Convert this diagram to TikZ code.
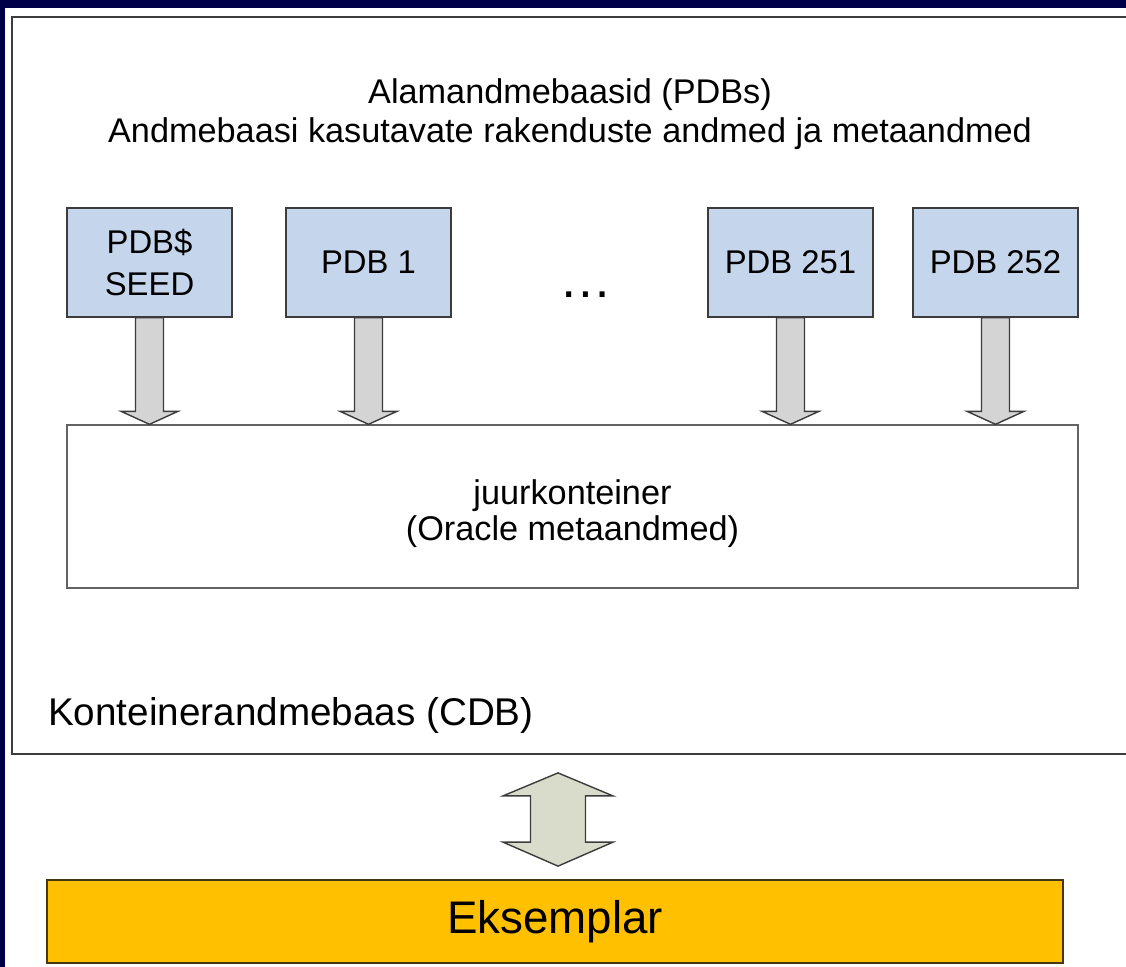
\documentclass[tikz,border=0pt]{standalone}
\usepackage{fontspec}
\setmainfont{Liberation Sans}
\usetikzlibrary{calc}
\definecolor{bgnavy}{RGB}{0, 0, 72}
\definecolor{pdbblue}{RGB}{197, 214, 236}
\definecolor{arrowgray}{RGB}{212, 212, 212}
\definecolor{swapgreen}{RGB}{217, 220, 203}
\definecolor{eksgold}{RGB}{255, 192, 0}
\definecolor{framegray}{RGB}{60, 60, 60}
\definecolor{eksedge}{RGB}{70, 55, 20}

\tikzset{
  pdbbox/.style={draw=framegray, line width=0.8pt, fill=pdbblue, minimum width=3.3cm, minimum height=2.18cm, align=center, font=\fontsize{18.7}{23.8}\selectfont},
  fatarrow/.style={draw=framegray, line width=0.8pt, fill=arrowgray, line join=miter},
}

\begin{document}
\begin{tikzpicture}[x=0.02cm, y=-0.02cm]
\useasboundingbox (0,0) rectangle (1126,967);
% Background
\fill[bgnavy] (0,0) rectangle (1126,967);
\fill[white] (5,8) rectangle (1126,967);

% Container database frame
\node[draw=framegray, line width=1.1pt, minimum width=22.56cm, minimum height=14.74cm] (cdb) at (576,385.5) {};
\node[anchor=west, font=\fontsize{22}{26}\selectfont] (cdblbl) at (42,715) {Konteinerandmebaas (CDB)};

% Title
\node[align=center, font=\fontsize{19.5}{22.1}\selectfont] (title) at (570,114) {Alamandmebaasid (PDBs)\\Andmebaasi kasutavate rakenduste andmed ja metaandmed};

% Pluggable databases
\node[pdbbox] (seed) at (149.5,262.5) {PDB\$\\SEED};
\node[pdbbox] (pdba) at (368.5,262.5) {PDB 1};
\node[font=\fontsize{30}{34}\selectfont] (dots) at (586,295) {…};
\node[pdbbox] (pdby) at (790.5,262.5) {PDB 251};
\node[pdbbox] (pdbz) at (995.5,262.5) {PDB 252};

% Root container
\node[draw=framegray!80, line width=0.8pt, minimum width=20.22cm, minimum height=3.26cm] (juur) at (572.5,506.5) {};
\node[align=center, font=\fontsize{19.5}{20.4}\selectfont] (juurlbl) at ($(juur.center)+(0,7)$) {juurkonteiner\\(Oracle metaandmed)};

% Arrows into root container
\foreach \p in {seed,pdba,pdby,pdbz}{
  \draw[fatarrow] ($(\p.south)+(-14,0)$) -- ($(\p.south |- juur.north)+(-14,-13)$) -- ($(\p.south |- juur.north)+(-28.5,-13)$) -- (\p.south |- juur.north) -- ($(\p.south |- juur.north)+(28.5,-13)$) -- ($(\p.south |- juur.north)+(14,-13)$) -- ($(\p.south)+(14,0)$) -- cycle;
}

% Instance
\node[draw=eksedge, line width=1pt, fill=eksgold, minimum width=20.32cm, minimum height=1.66cm, font=\fontsize{26}{30}\selectfont] (eks) at (555,921.5) {Eksemplar};

% Two-way arrow
\coordinate (upper) at ($(eks.north |- cdb.south)+(3,18)$);
\coordinate (lower) at ($(eks.north)+(3,-13)$);
\draw[fatarrow, fill=swapgreen] (upper) -- ($(upper)+(55,23)$) -- ($(upper)+(27.5,23)$) -- ($(lower)+(27.5,-24)$) -- ($(lower)+(55,-24)$) -- (lower) -- ($(lower)+(-55,-24)$) -- ($(lower)+(-27.5,-24)$) -- ($(upper)+(-27.5,23)$) -- ($(upper)+(-55,23)$) -- cycle;
\end{tikzpicture}
\end{document}
